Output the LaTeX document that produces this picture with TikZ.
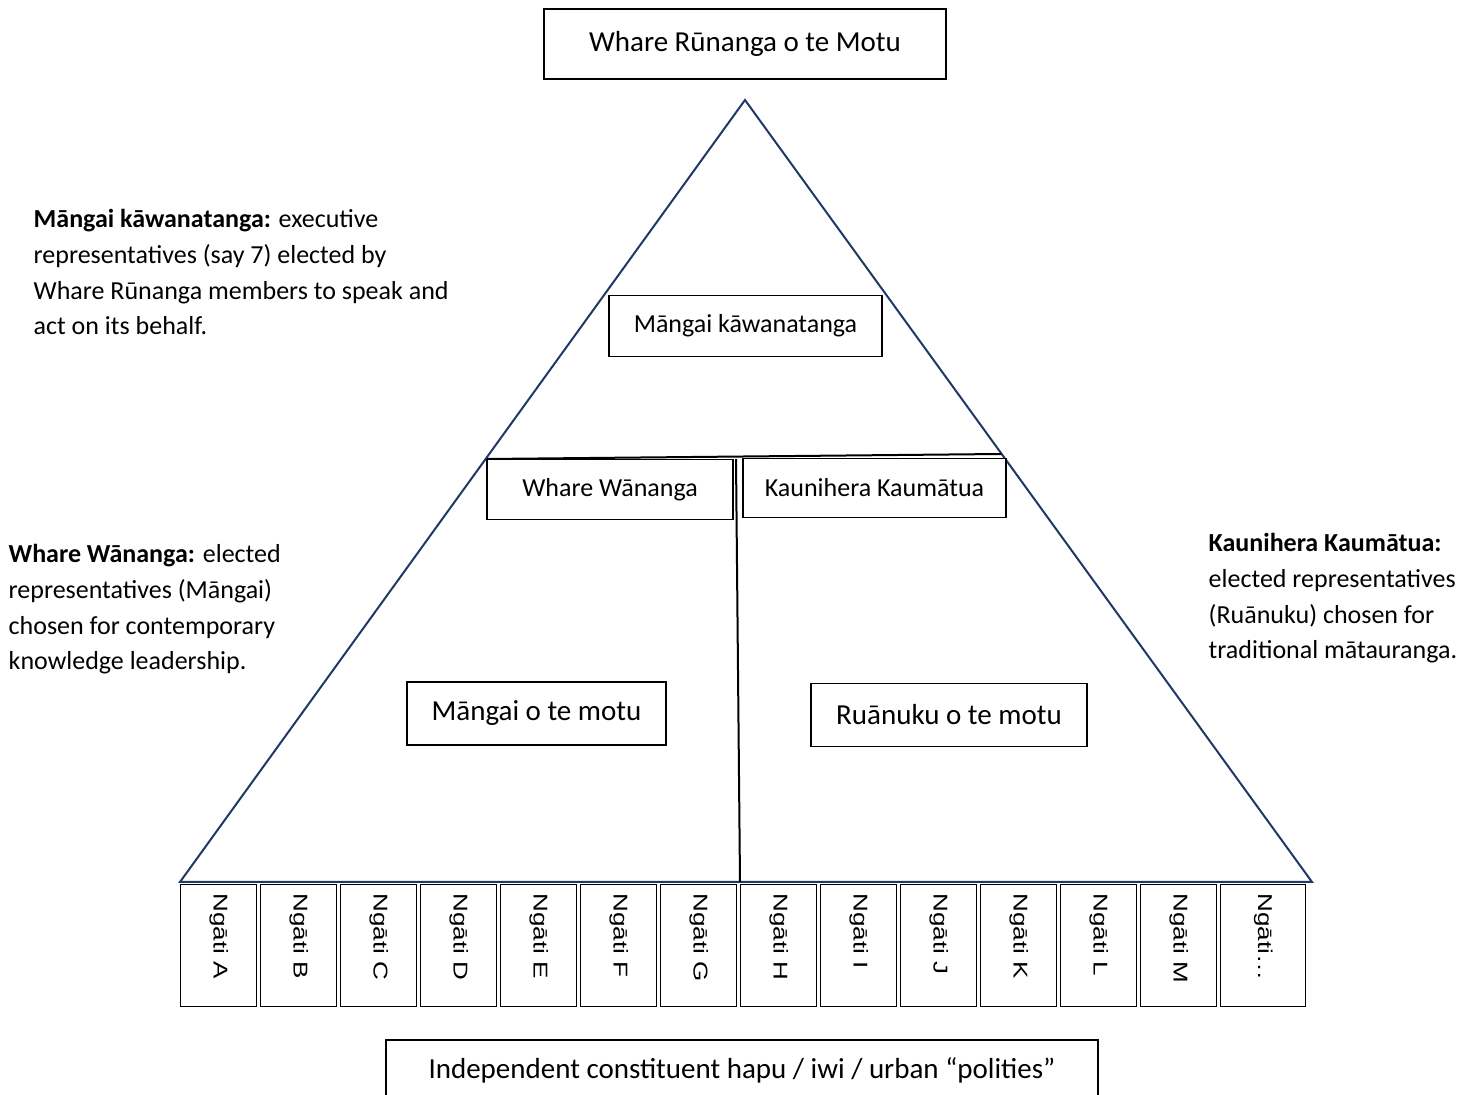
\documentclass[tikz,border=0pt]{standalone}
\usepackage{fontspec}
\setmainfont{Carlito}
\newfontfamily\arialfont{Liberation Sans}
\usepackage{tikz}
\definecolor{trinavy}{HTML}{203864}
\newcommand{\ngtext}[1]{\rotatebox{-90}{\makebox[52pt][l]{\scalebox{1.3}[1]{#1}}}}

\begin{document}
\begin{tikzpicture}[x=0.5pt, y=-0.5pt, % pixel-like units, y down
	line width=0.7pt,
	box/.style={draw, fill=white, inner sep=0pt, font=\fontsize{14.5}{17}\selectfont},
	smallbox/.style={box, font=\fontsize{13}{16}\selectfont},
	note/.style={align=left, inner sep=0pt, font=\fontsize{13}{17.8}\selectfont},
	ngbox/.style={draw, inner sep=0pt, minimum width=38pt, minimum height=61pt, font=\arialfont\fontsize{10}{12}\selectfont}]
	\useasboundingbox (0,0) rectangle (1479,1095);
	% the triangle
	\coordinate (apex) at (745,100);
	\coordinate (baseL) at (180,882);
	\coordinate (baseR) at (1312,882);
	\draw[trinavy, line width=1pt, line join=miter] (apex) -- (baseL) -- (baseR) -- cycle;
	% split lines
	\coordinate (divL) at (487,459);
	\coordinate (divR) at (1001,454);
	\coordinate (midT) at (736,459);
	\coordinate (midB) at (740,882);
	\draw[line width=1pt] (divL) -- (divR);
	\draw[line width=1pt] (midT) -- (midB);
	% boxes
	\node[box, minimum width=201pt, minimum height=35pt] (motu) at (745,44) {Whare Rūnanga o te Motu};
	\node[smallbox, minimum width=136.5pt, minimum height=30.5pt] (kawana) at (745.5,326) {Māngai kāwanatanga};
	\node[smallbox, minimum width=123pt, minimum height=30pt] (wananga) at (610,489.5) {Whare Wānanga};
	\node[smallbox, minimum width=131.5pt, minimum height=29.5pt] (kaumatua) at (874.5,488) {Kaunihera Kaumātua};
	\node[box, minimum width=129.5pt, minimum height=31.5pt] (mangai) at (536.5,713.5) {Māngai o te motu};
	\node[box, minimum width=138pt, minimum height=31.5pt] (ruanuku) at (949,715) {Ruānuku o te motu};
	\node[box, minimum width=356pt, minimum height=30pt] (polities) at (742,1070) {Independent constituent hapu / iwi / urban “polities”};
	% the ngati row
	\foreach \l [count=\i from 0] in {A,B,C,D,E,F,G,H,I,J,K,L,M}
		\node[ngbox, anchor=north west] (ng\l) at ({180+80*\i},884) {\ngtext{Ngāti \l}};
	\node[ngbox, anchor=north west, minimum width=42.5pt] (ngmore) at (1220,884) {\ngtext{Ngāti…}};
	% side notes
	\node[note, anchor=north west] (notekawana) at (33,209) {\textbf{Māngai kāwanatanga:} executive\\representatives (say 7) elected by\\Whare Rūnanga members to speak and\\act on its behalf.};
	\node[note, anchor=north west] (notewananga) at (8,544) {\textbf{Whare Wānanga:} elected\\representatives (Māngai)\\chosen for contemporary\\knowledge leadership.};
	\node[note, anchor=north west] (notekaumatua) at (1208,533) {\textbf{Kaunihera Kaumātua:}\\elected representatives\\(Ruānuku) chosen for\\traditional mātauranga.};
\end{tikzpicture}
\end{document}
